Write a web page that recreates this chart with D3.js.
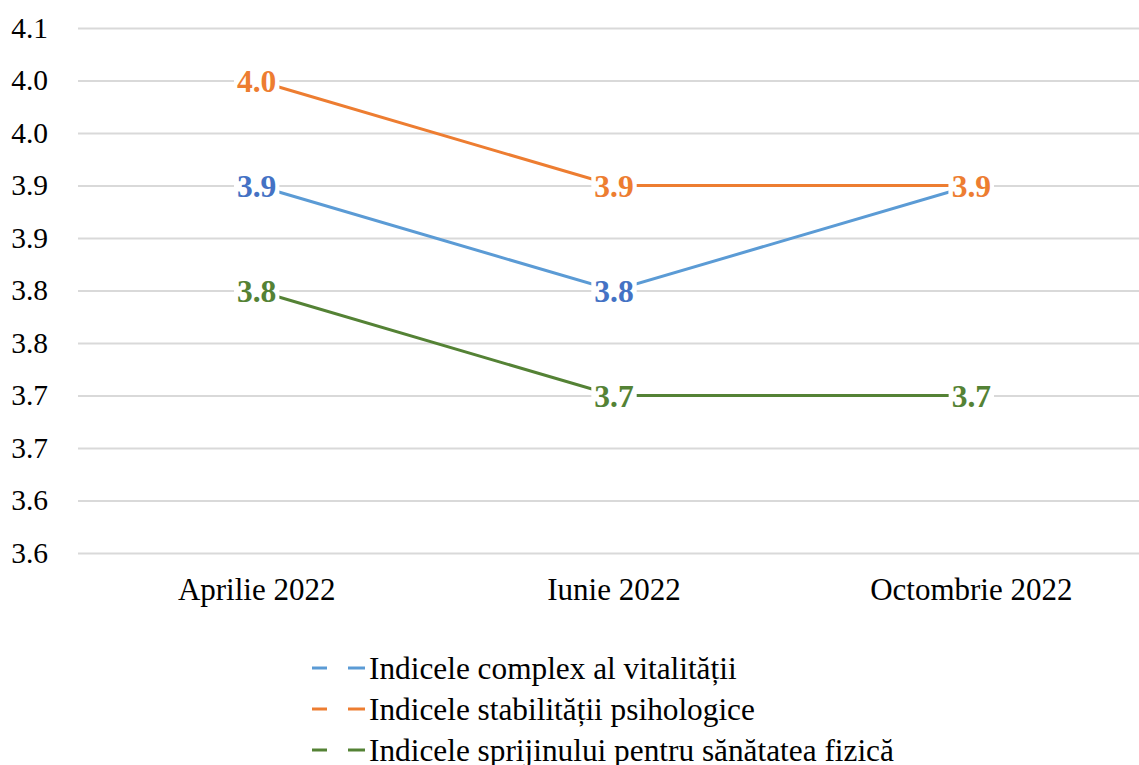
<!DOCTYPE html>
<html>
<head>
<meta charset="utf-8">
<script src="https://cdn.jsdelivr.net/npm/d3@7"></script>
<style>
  body { margin: 0; background: #fff; }
  svg text { font-family: "Liberation Serif", "Times New Roman", serif; }
</style>
</head>
<body>
<div class="chart"></div>
<script>
const categories = ['Aprilie 2022', 'Iunie 2022', 'Octombrie 2022'];
const seriesNames = [
  'Indicele complex al vitalității',
  'Indicele stabilității psihologice',
  'Indicele sprijinului pentru sănătatea fizică'
];
const vitalitate = [3.90, 3.80, 3.90];
const stabilitate = [4.00, 3.90, 3.90];
const sprijin = [3.80, 3.70, 3.70];
const valueLabels = [
  ['3.9', '3.8', '3.9'],
  ['4.0', '3.9', '3.9'],
  ['3.8', '3.7', '3.7']
];
const tickValues = [3.55, 3.60, 3.65, 3.70, 3.75, 3.80, 3.85, 3.90, 3.95, 4.00, 4.05];
const tickLabels = ['3.6', '3.6', '3.7', '3.7', '3.8', '3.8', '3.9', '3.9', '4.0', '4.0', '4.1'];

const lineColors = ['#5b9bd5', '#ed7d31', '#548235'];
const labelColors = ['#4472c4', '#ed7d31', '#548235'];

const width = 1139;
const height = 765;
const plotLeft = 78, plotRight = 1150, plotTop = 28, plotBottom = 553;
const serif = '"Liberation Serif", "Times New Roman", serif';

const svg = d3.select('.chart').append('svg')
  .attr('width', width)
  .attr('height', height)
  .style('display', 'block');

const x = d3.scalePoint()
  .domain(categories)
  .range([plotLeft, plotRight])
  .padding(0.5);

const y = d3.scaleLinear()
  .domain([3.55, 4.05])
  .range([plotBottom, plotTop]);

// gridlines + tick labels
const yAxis = svg.append('g')
  .attr('transform', 'translate(' + plotLeft + ',0)')
  .call(d3.axisLeft(y)
    .tickValues(tickValues)
    .tickFormat(function(d, i) { return tickLabels[i]; })
    .tickSize(-(plotRight - plotLeft))
    .tickPadding(30))
  .attr('font-family', null);

yAxis.select('.domain').remove();
yAxis.selectAll('.tick line')
  .attr('stroke', '#d9d9d9')
  .attr('stroke-width', 2);
yAxis.selectAll('.tick text')
  .style('font-family', serif)
  .style('font-size', '29.5px')
  .attr('fill', '#000');

// category labels
svg.selectAll('.cat')
  .data(categories)
  .enter()
  .append('text')
  .attr('class', 'cat')
  .attr('x', function(d) { return x(d); })
  .attr('y', 600)
  .attr('text-anchor', 'middle')
  .style('font-family', serif)
  .style('font-size', '31px')
  .attr('fill', '#000')
  .text(function(d) { return d; });

const series = [vitalitate, stabilitate, sprijin];

const line = d3.line()
  .x(function(d, i) { return x(categories[i]); })
  .y(function(d) { return y(d); });

svg.selectAll('.series')
  .data(series)
  .enter()
  .append('path')
  .attr('class', 'series')
  .attr('d', function(d) { return line(d); })
  .attr('fill', 'none')
  .attr('stroke', function(d, i) { return lineColors[i]; })
  .attr('stroke-width', 3);

// data labels with white box
series.forEach(function(vals, s) {
  const g = svg.append('g');
  vals.forEach(function(v, i) {
    const lbl = g.append('g')
      .attr('transform', 'translate(' + x(categories[i]) + ',' + y(v) + ')');
    const t = lbl.append('text')
      .attr('text-anchor', 'middle')
      .attr('dy', '0.35em')
      .style('font-family', serif)
      .style('font-size', '31.5px')
      .style('font-weight', 'bold')
      .attr('fill', labelColors[s])
      .text(valueLabels[s][i]);
    const bb = t.node().getBBox();
    lbl.insert('rect', 'text')
      .attr('x', bb.x - 3)
      .attr('y', bb.y + 4)
      .attr('width', bb.width + 6)
      .attr('height', bb.height - 8)
      .attr('fill', '#fff');
  });
});

// legend
const legendY = [668, 709, 750];
const legend = svg.selectAll('.legend')
  .data(seriesNames)
  .enter()
  .append('g')
  .attr('class', 'legend')
  .attr('transform', function(d, i) { return 'translate(312,' + legendY[i] + ')'; });

legend.append('line')
  .attr('x1', 0).attr('x2', 15)
  .attr('stroke', function(d, i) { return lineColors[i]; })
  .attr('stroke-width', 3);
legend.append('line')
  .attr('x1', 36).attr('x2', 53)
  .attr('stroke', function(d, i) { return lineColors[i]; })
  .attr('stroke-width', 3);
legend.append('text')
  .attr('x', 57)
  .attr('dy', '0.35em')
  .style('font-family', serif)
  .style('font-size', '31.3px')
  .attr('fill', '#000')
  .text(function(d) { return d; });
</script>
</body>
</html>
